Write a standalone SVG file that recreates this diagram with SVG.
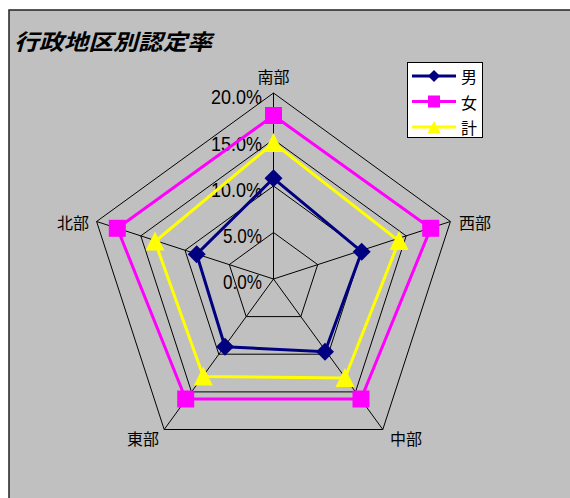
<svg xmlns="http://www.w3.org/2000/svg" width="570" height="498" viewBox="0 0 570 498">
<defs>
<style>
.grid{fill:none;stroke:#000;stroke-width:1}
.ser{fill:none;stroke-width:3;stroke-linejoin:miter}
.m{stroke:#000080}
.f{stroke:#FF00FF}
.t{stroke:#FFFF00}
.num{font-family:"Liberation Sans",Arial,sans-serif;font-size:21px;fill:#000}
.jp{font-family:"Noto Sans CJK JP","Noto Sans CJK SC",sans-serif;font-size:16px;fill:#000}
.title{font-family:"Noto Sans CJK JP","Noto Sans CJK SC",sans-serif;font-size:22px;font-weight:bold;font-style:italic;fill:#000}
</style>
<path id="dia" d="M0,-9 L9,0 L0,9 L-9,0 Z" fill="#000080"/>
<rect id="sq" x="-8.5" y="-8.5" width="17" height="17" fill="#FF00FF"/>
<path id="tri" d="M0,-10 L9.5,9 L-9.5,9 Z" fill="#FFFF00"/>
<path id="ldia" d="M0,-6 L6,0 L0,6 L-6,0 Z" fill="#000080"/>
<rect id="lsq" x="-6" y="-6" width="12" height="12" fill="#FF00FF"/>
<path id="ltri" d="M0,-6 L6.5,6 L-6.5,6 Z" fill="#FFFF00"/>
</defs>
<rect x="0" y="0" width="570" height="498" fill="#fff"/>
<rect id="frame" x="9" y="10" width="570" height="500" fill="#C0C0C0" stroke="#222" stroke-width="1.5"/>
<text id="title" class="title" x="14" y="50" textLength="198" lengthAdjust="spacingAndGlyphs">行政地区別認定率</text>
<g id="grid">
<polygon class="grid" points="273.5,93 450.4,221.5 382.8,429.5 164.2,429.5 96.6,221.5"/>
<polygon class="grid" points="273.5,139.5 406.2,235.9 355.5,391.9 191.5,391.9 140.8,235.9"/>
<polygon class="grid" points="273.5,186 362,250.3 328.2,354.2 218.8,354.2 185,250.3"/>
<polygon class="grid" points="273.5,232.5 317.7,264.6 300.8,316.6 246.2,316.6 229.3,264.6"/>
<path class="grid" d="M273.5,279 L273.5,93 M273.5,279 L450.4,221.5 M273.5,279 L382.8,429.5 M273.5,279 L164.2,429.5 M273.5,279 L96.6,221.5"/>
</g>
<g id="axis-labels">
<text class="num" x="262" y="104" text-anchor="end" textLength="51" lengthAdjust="spacingAndGlyphs">20.0%</text>
<text class="num" x="262" y="151" text-anchor="end" textLength="51" lengthAdjust="spacingAndGlyphs">15.0%</text>
<text class="num" x="262" y="197" text-anchor="end" textLength="51" lengthAdjust="spacingAndGlyphs">10.0%</text>
<text class="num" x="262" y="243" text-anchor="end" textLength="39" lengthAdjust="spacingAndGlyphs">5.0%</text>
<text class="num" x="262" y="289" text-anchor="end" textLength="39" lengthAdjust="spacingAndGlyphs">0.0%</text>
</g>
<g id="category-labels">
<text id="lbl-nanbu" class="jp" x="273.5" y="83" text-anchor="middle">南部</text>
<text id="lbl-seibu" class="jp" x="459" y="229">西部</text>
<text id="lbl-chubu" class="jp" x="390" y="445">中部</text>
<text id="lbl-tobu" class="jp" x="159" y="445" text-anchor="end">東部</text>
<text id="lbl-hokubu" class="jp" x="89" y="229" text-anchor="end">北部</text>
</g>
<g id="connectors">
<polygon class="ser m" points="273.5,178.3 361.7,251.7 325,351.7 225,346.7 196.7,254.3"/>
<polygon class="ser f" points="273.5,115.5 430.7,228.3 361,399 185.7,399 117.3,228.3"/>
<polygon class="ser t" points="273.5,143 399,241 345,378 203.3,376.5 155,241.5"/>
</g>
<g id="markers-male">
<use href="#dia" x="273.5" y="178.3"/>
<use href="#dia" x="361.7" y="251.7"/>
<use href="#dia" x="325" y="351.7"/>
<use href="#dia" x="225" y="346.7"/>
<use href="#dia" x="196.7" y="254.3"/>
</g>
<g id="markers-female">
<use href="#sq" x="273.5" y="115.5"/>
<use href="#sq" x="430.7" y="228.3"/>
<use href="#sq" x="361" y="399"/>
<use href="#sq" x="185.7" y="399"/>
<use href="#sq" x="117.3" y="228.3"/>
</g>
<g id="markers-total">
<use href="#tri" x="273.5" y="143"/>
<use href="#tri" x="399" y="241"/>
<use href="#tri" x="345" y="378"/>
<use href="#tri" x="203.3" y="376.5"/>
<use href="#tri" x="155" y="241.5"/>
</g>
<g id="legend">
<rect x="407.5" y="62.5" width="75" height="75" fill="#fff" stroke="#000" stroke-width="1"/>
<line class="ser m" x1="412" y1="76" x2="456" y2="76"/>
<use href="#ldia" x="434" y="76"/>
<text class="jp" x="461" y="83">男</text>
<line class="ser f" x1="412" y1="101.5" x2="456" y2="101.5"/>
<use href="#lsq" x="434" y="101.5"/>
<text class="jp" x="461" y="109">女</text>
<line class="ser t" x1="412" y1="127" x2="456" y2="127"/>
<use href="#ltri" x="434" y="127"/>
<text class="jp" x="461" y="134">計</text>
</g>
</svg>
